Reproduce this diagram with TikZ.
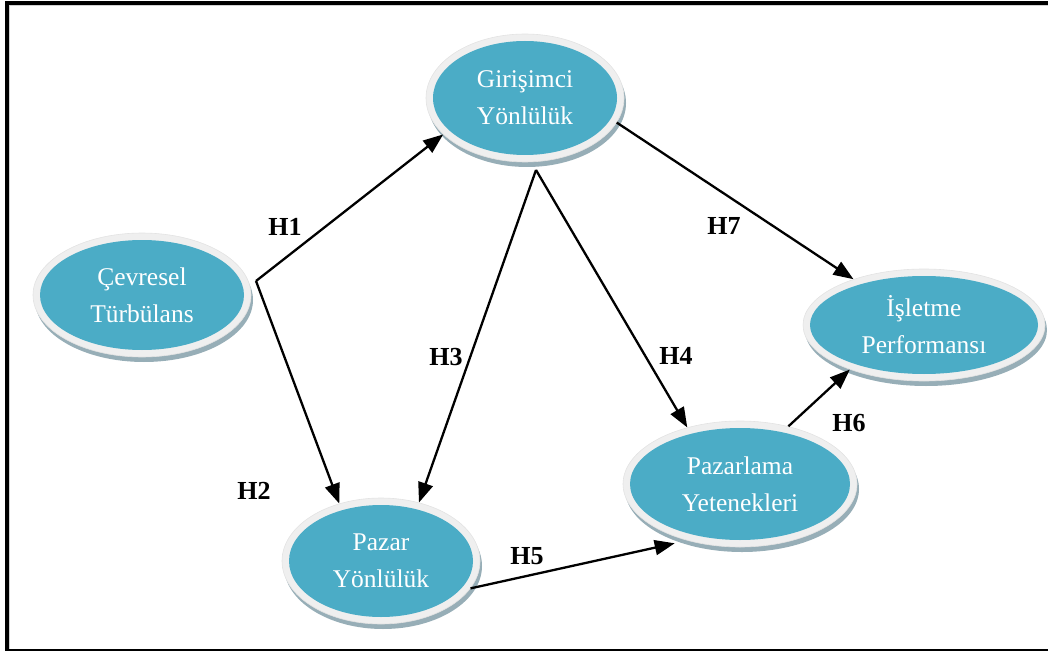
\documentclass[tikz,border=0pt]{standalone}
\usepackage{fontspec}
\setmainfont{Liberation Serif}
\usetikzlibrary{shapes.geometric,arrows.meta,calc}
\definecolor{tealfill}{HTML}{4BACC6}
\definecolor{ringcol}{HTML}{EFEFEF}
\definecolor{shadcol}{HTML}{97AEB7}
\tikzset{
  outerell/.style={ellipse, fill=ringcol, draw=gray!22, line width=0.6pt, inner sep=0pt},
  innerell/.style={ellipse, fill=tealfill, inner sep=0pt, text=white, align=center,
    font=\fontsize{25.5}{37}\selectfont},
  shadowell/.style={ellipse, fill=shadcol, inner sep=0pt},
  conn/.style={line width=2.3pt, -{Triangle[length=20pt,width=15pt]}},
  hlab/.style={font=\fontsize{26}{30}\selectfont\bfseries},
}
\newcommand{\myoval}[6]{%
  \node[shadowell, minimum width=2*#4, minimum height=2*#5] (#1s) at (#2+2,#3+5) {};
  \node[outerell, minimum width=2*#4, minimum height=2*#5] (#1) at (#2,#3) {};
  \node[innerell, minimum width=2*#4-14, minimum height=2*#5-14] (#1t) at (#2,#3) {#6};
}
\begin{document}
\begin{tikzpicture}[x=1pt,y=-1pt]
\useasboundingbox (0,0) rectangle (1048,652);
% frame
\draw[gray!35, line width=1.5pt] (9.5,650) -- (9.5,5.5) -- (1048,5.5);
\draw[line width=4pt] (7,650) -- (7,3) -- (1048,3);
\draw[line width=2pt] (5,650) -- (1048,650);
% ellipses
\myoval{gir}{525}{98}{99}{64}{Girişimci\\Yönlülük}
\myoval{cev}{142}{295}{109}{62}{Çevresel\\Türbülans}
\myoval{isl}{924}{325}{121}{56}{İşletme\\Performansı}
\myoval{paz}{740}{484}{117}{63}{Pazarlama\\Yetenekleri}
\myoval{pzr}{381}{561}{99}{63}{Pazar\\Yönlülük}
% branching points
\coordinate (cs) at (256,281);
\coordinate (gs) at (536,170);
% connectors
\draw[conn] (cs) -- (gir.204);
\draw[conn] (cs) -- (pzr.126.5);
\draw[conn] (gs) -- (pzr.57);
\draw[conn] (gs) -- (paz.133);
\draw[conn] (gir.345) -- (isl.147);
\draw[conn] (pzr.343) -- ($(paz.222)+(-5,5)$);
\draw[conn] (paz.50) -- (isl.211);
% labels
\node[hlab] (h1) at (285,227) {H1};
\node[hlab] (h2) at (254,491) {H2};
\node[hlab] (h3) at (446,357) {H3};
\node[hlab] (h4) at (676,356) {H4};
\node[hlab] (h7) at (724,226) {H7};
\node[hlab] (h5) at (527,556) {H5};
\node[hlab] (h6) at (849,423) {H6};
\end{tikzpicture}
\end{document}
